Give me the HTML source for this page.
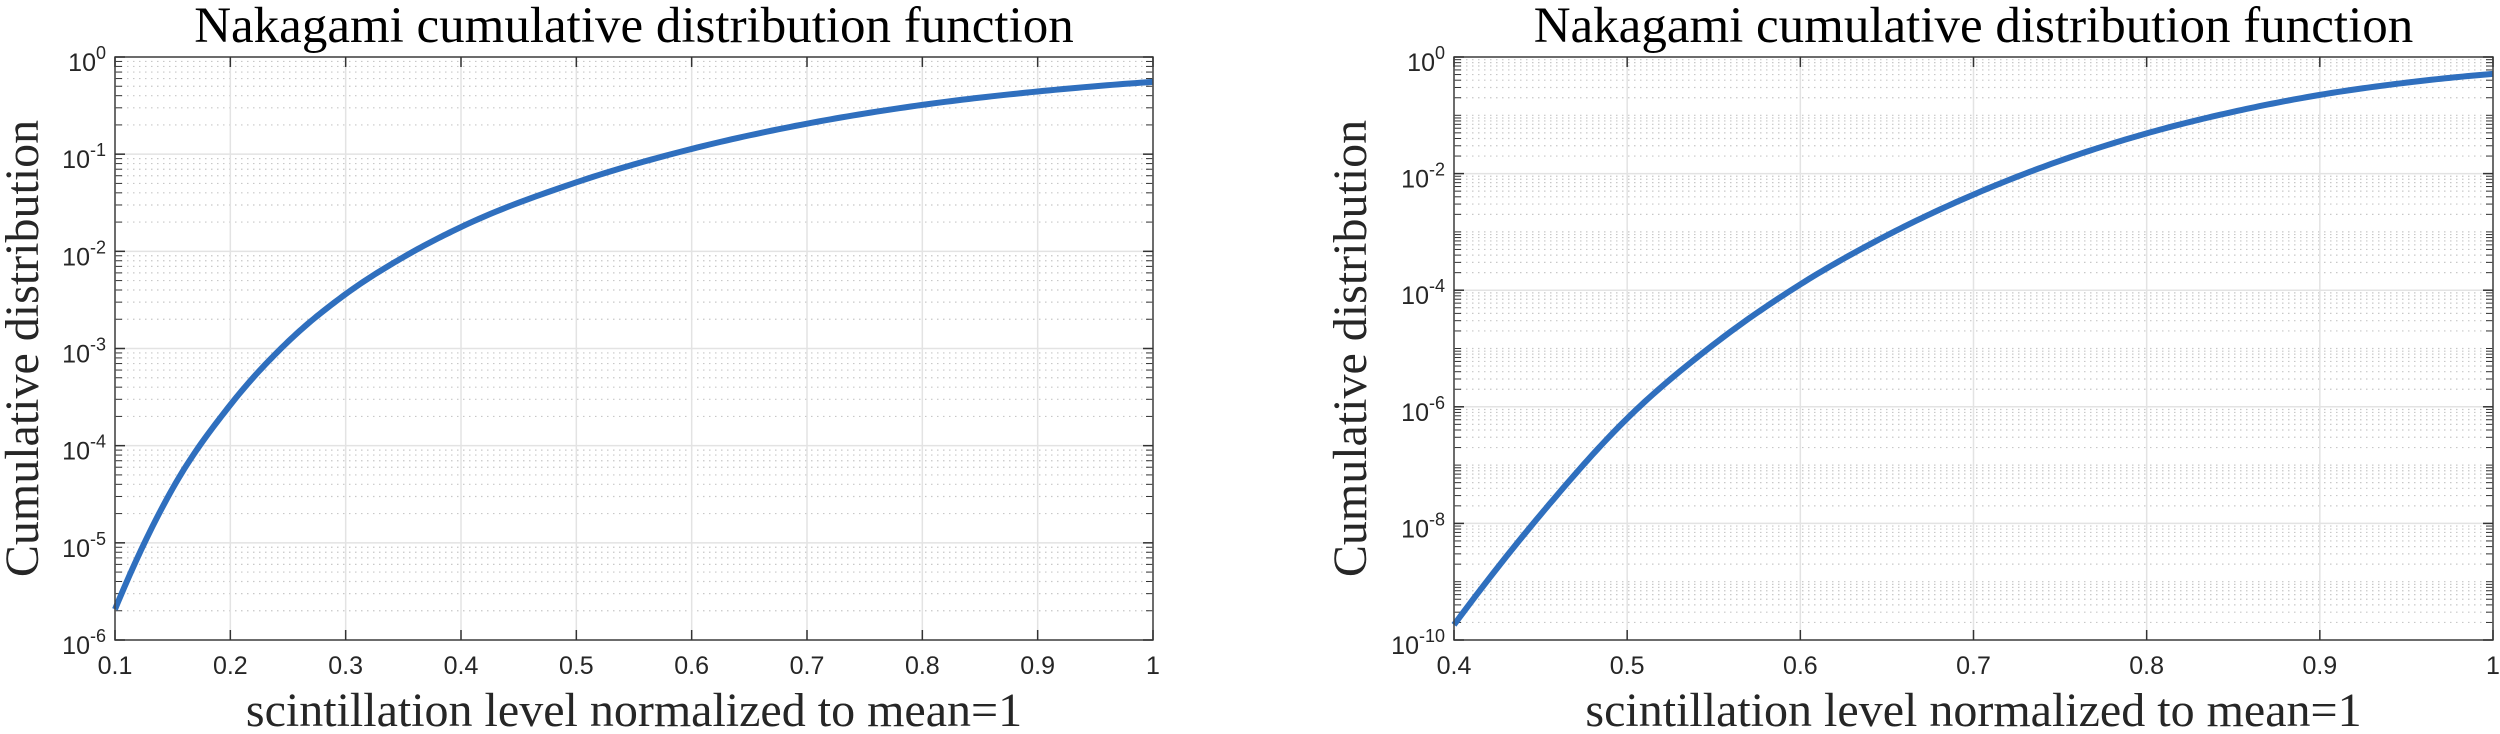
<!DOCTYPE html>
<html><head><meta charset="utf-8">
<style>
html,body{margin:0;padding:0;background:#fff;}
svg{display:block;}
</style></head>
<body>
<svg id="fig" width="2500" height="734" viewBox="0 0 2500 734" xmlns="http://www.w3.org/2000/svg"></svg>
<script>
// ---- Left chart data ----
const leftX = [0.1, 0.15, 0.2, 0.25, 0.3, 0.35, 0.4, 0.5, 0.6, 0.7, 0.8, 0.9, 1.0];
const leftLogY = [-5.684, -4.44, -3.58, -2.93, -2.44, -2.06, -1.75, -1.29, -0.946, -0.686, -0.493, -0.355, -0.256];
const leftXTicks = [0.1, 0.2, 0.3, 0.4, 0.5, 0.6, 0.7, 0.8, 0.9, 1];
const leftXTickLabels = ["0.1","0.2","0.3","0.4","0.5","0.6","0.7","0.8","0.9","1"];
const leftYTickExps = [0, -1, -2, -3, -4, -5, -6];
// ---- Right chart data ----
const rightX = [0.4, 0.45, 0.5, 0.55, 0.6, 0.65, 0.7, 0.75, 0.8, 0.85, 0.9, 0.95, 1.0];
const rightLogY = [-9.74, -7.85, -6.20, -4.93, -3.90, -3.06, -2.36, -1.78, -1.31, -0.94, -0.65, -0.44, -0.29];
const rightXTicks = [0.4, 0.5, 0.6, 0.7, 0.8, 0.9, 1];
const rightXTickLabels = ["0.4","0.5","0.6","0.7","0.8","0.9","1"];
const rightYTickExps = [0, -2, -4, -6, -8, -10];

const NS = "http://www.w3.org/2000/svg";
const svg = document.getElementById("fig");
function mk(tag, attrs, parent){
  const e = document.createElementNS(NS, tag);
  for (const k in attrs) e.setAttribute(k, attrs[k]);
  (parent||svg).appendChild(e);
  return e;
}

// cubic Hermite through data with non-uniform derivative estimates
function hermitePath(xs, ys, sx, sy){
  const n = xs.length, m = [];
  for (let i = 0; i < n; i++){
    if (i === 0) m.push((ys[1]-ys[0])/(xs[1]-xs[0]));
    else if (i === n-1) m.push((ys[n-1]-ys[n-2])/(xs[n-1]-xs[n-2]));
    else {
      const h0 = xs[i]-xs[i-1], h1 = xs[i+1]-xs[i];
      const d0 = (ys[i]-ys[i-1])/h0, d1 = (ys[i+1]-ys[i])/h1;
      m.push((h1*d0 + h0*d1)/(h0+h1));
    }
  }
  // endpoint slopes: extrapolate quadratically
  if (n > 2){
    const h0 = xs[1]-xs[0], h1 = xs[2]-xs[1];
    const d0 = (ys[1]-ys[0])/h0, d1 = (ys[2]-ys[1])/h1;
    m[0] = d0 - (d1-d0)*h0/(h0+h1);
    const k = n-1, g0 = xs[k-1]-xs[k-2], g1 = xs[k]-xs[k-1];
    const e0 = (ys[k-1]-ys[k-2])/g0, e1 = (ys[k]-ys[k-1])/g1;
    m[k] = e1 + (e1-e0)*g1/(g0+g1);
  }
  let d = "";
  for (let i = 0; i < n-1; i++){
    const h = xs[i+1]-xs[i];
    for (let s = 0; s <= 20; s++){
      if (i > 0 && s === 0) continue;
      const t = s/20, t2=t*t, t3=t2*t;
      const y = (2*t3-3*t2+1)*ys[i] + (t3-2*t2+t)*h*m[i] + (-2*t3+3*t2)*ys[i+1] + (t3-t2)*h*m[i+1];
      const x = xs[i] + t*h;
      d += (d ? " L" : "M") + sx(x).toFixed(2) + "," + sy(y).toFixed(2);
    }
  }
  return d;
}

function drawChart(cfg){
  const g = mk("g", {});
  
  
  const {x0,x1,y0,y1,xmin,xmax,emin,emax} = cfg;
  const sx = v => x0 + (v - xmin) / (xmax - xmin) * (x1 - x0);
  const sy = e => y1 - (e - emin) / (emax - emin) * (y1 - y0);

  const minor = mk("g", {stroke:"#c8c8c8","stroke-width":1.2,"stroke-dasharray":"1.5 4.5"}, g);
  
  
  for (let e = emin; e < emax; e++){
    for (let m = 2; m <= 9; m++){
      const y = sy(e + Math.log10(m));
      mk("line", {x1:x0, x2:x1, y1:y, y2:y}, minor);
      mk("line", {x1:x0, x2:x0+7, y1:y, y2:y, stroke:"#333"}, g);
      mk("line", {x1:x1, x2:x1-7, y1:y, y2:y, stroke:"#333"}, g);
    }
    if (cfg.yMinorDecades && !cfg.yTicks.includes(e)) {
      const y = sy(e);
      mk("line", {x1:x0, x2:x1, y1:y, y2:y}, minor);
      mk("line", {x1:x0, x2:x0+7, y1:y, y2:y, stroke:"#333"}, g);
      mk("line", {x1:x1, x2:x1-7, y1:y, y2:y, stroke:"#333"}, g);
    }
  }
  const major = mk("g", {stroke:"#e3e3e3","stroke-width":1.5}, g);
  
  
  cfg.xTicks.forEach(v => { const x = sx(v); mk("line",{x1:x,x2:x,y1:y0,y2:y1},major); });
  cfg.yTicks.forEach(e => { const y = sy(e); mk("line",{x1:x0,x2:x1,y1:y,y2:y},major); });

  const line = mk("path", {d:hermitePath(cfg.xs, cfg.ys, sx, sy), fill:"none", stroke:"#2f6fbe","stroke-width":6,"stroke-linejoin":"round"}, g);
  
  

  mk("rect", {x:x0, y:y0, width:x1-x0, height:y1-y0, fill:"none", stroke:"#404040","stroke-width":1.5}, g);
  cfg.xTicks.forEach((v,i) => {
    const x = sx(v);
    mk("line",{x1:x,x2:x,y1:y1,y2:y1-10,stroke:"#333","stroke-width":1.5},g);
    mk("line",{x1:x,x2:x,y1:y0,y2:y0+10,stroke:"#333","stroke-width":1.5},g);
    const t = mk("text",{x:x,y:674,"text-anchor":"middle","font-family":"Liberation Sans, sans-serif","font-size":25,fill:"#262626"},g);
    t.textContent = cfg.xTickLabels[i];
    
    
  });
  cfg.yTicks.forEach(e => {
    const y = sy(e);
    mk("line",{x1:x0,x2:x0+10,y1:y,y2:y,stroke:"#333","stroke-width":1.5},g);
    mk("line",{x1:x1,x2:x1-10,y1:y,y2:y,stroke:"#333","stroke-width":1.5},g);
    const t = mk("text",{x:x0-9,y:y+14,"text-anchor":"end","font-family":"Liberation Sans, sans-serif","font-size":25,fill:"#262626"},g);
    
    
    const b = document.createElementNS(NS,"tspan"); b.textContent = "10"; t.appendChild(b);
    const s = document.createElementNS(NS,"tspan"); s.setAttribute("dy","-12"); s.setAttribute("font-size","18"); s.textContent = String(e); t.appendChild(s);
  });

  const title = mk("text",{x:(x0+x1)/2,y:42,"text-anchor":"middle","font-family":"Liberation Serif, serif","font-size":51,fill:"#000"},g);
  title.textContent = "Nakagami cumulative distribution function";
  
  
  const xl = mk("text",{x:(x0+x1)/2,y:726,"text-anchor":"middle","font-family":"Liberation Serif, serif","font-size":48,fill:"#262626"},g);
  xl.textContent = "scintillation level normalized to mean=1";
  
  
  const yl = mk("text",{x:0,y:0,"text-anchor":"middle","font-family":"Liberation Serif, serif","font-size":48,fill:"#262626",transform:`translate(${cfg.ylx},${(y0+y1)/2}) rotate(-90)`},g);
  yl.textContent = "Cumulative distribution";
  
  
}

drawChart({name:"left-chart", x0:115, x1:1153, y0:57, y1:640, xmin:0.1, xmax:1, emin:-6, emax:0,
  xs:leftX, ys:leftLogY, xTicks:leftXTicks, xTickLabels:leftXTickLabels, yTicks:leftYTickExps, ylx:38, yMinorDecades:false});
drawChart({name:"right-chart", x0:1454, x1:2493, y0:57, y1:640, xmin:0.4, xmax:1, emin:-10, emax:0,
  xs:rightX, ys:rightLogY, xTicks:rightXTicks, xTickLabels:rightXTickLabels, yTicks:rightYTickExps, ylx:1366, yMinorDecades:true});
</script>
</body></html>
